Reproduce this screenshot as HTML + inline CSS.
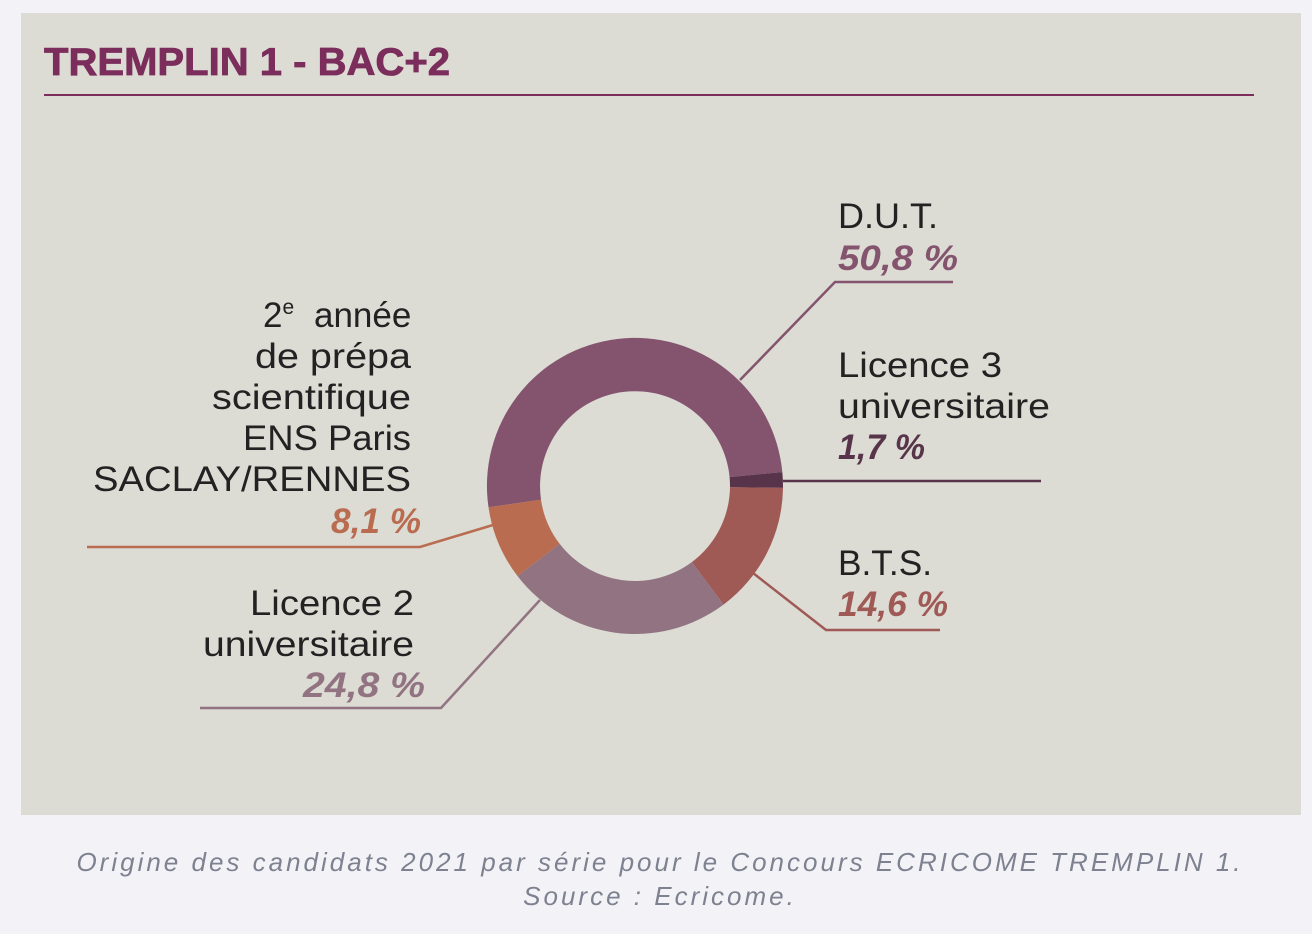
<!DOCTYPE html>
<html><head><meta charset="utf-8"><style>
body{margin:0;width:1312px;height:934px;background:#f3f3f7;overflow:hidden;font-family:"Liberation Sans",sans-serif}
</style></head><body>
<svg width="1312" height="934" xmlns="http://www.w3.org/2000/svg" style="position:absolute;left:0;top:0">
<rect x="21" y="13" width="1280" height="802" fill="#dcdbd4"/>
<text x="44" y="75" font-family="Liberation Sans" font-weight="bold" font-size="39" fill="#7b2d5b" stroke="#7b2d5b" stroke-width="0.8" textLength="406" lengthAdjust="spacingAndGlyphs">TREMPLIN 1 - BAC+2</text>
<line x1="44" y1="95" x2="1254" y2="95" stroke="#7b2d5b" stroke-width="2"/>
<path d="M488.5,507.3 A148,148 0 1 1 782.3,472.1 L729.6,477.1 A95,95 0 1 0 541.0,499.7 Z" fill="#84546f"/>
<path d="M782.3,472.1 A148,148 0 0 1 783.0,487.9 L730.0,487.2 A95,95 0 0 0 729.6,477.1 Z" fill="#57344a"/>
<path d="M783.0,487.9 A148,148 0 0 1 723.5,604.6 L691.8,562.1 A95,95 0 0 0 730.0,487.2 Z" fill="#a05a55"/>
<path d="M723.5,604.6 A148,148 0 0 1 517.5,576.0 L559.6,543.8 A95,95 0 0 0 691.8,562.1 Z" fill="#917381"/>
<path d="M517.5,576.0 A148,148 0 0 1 488.5,507.3 L541.0,499.7 A95,95 0 0 0 559.6,543.8 Z" fill="#b96c4f"/>
<polyline points="740,380 835,282 953,282" fill="none" stroke="#84546f" stroke-width="2.5"/>
<polyline points="783,481 1041,481" fill="none" stroke="#57344a" stroke-width="2.5"/>
<polyline points="753,573 826,630 940,630" fill="none" stroke="#a05a55" stroke-width="2.5"/>
<polyline points="540,600 441,708 200,708" fill="none" stroke="#917381" stroke-width="2.5"/>
<polyline points="493,525 420,547 87,547" fill="none" stroke="#b96c4f" stroke-width="2.5"/>
<g font-family="Liberation Sans" font-size="35" fill="#222">
<text x="838" y="228" textLength="100" lengthAdjust="spacingAndGlyphs">D.U.T.</text>
<text x="838" y="270" textLength="120" lengthAdjust="spacingAndGlyphs" font-weight="bold" font-style="italic" fill="#84546f">50,8 %</text>
<text x="838" y="377" textLength="164" lengthAdjust="spacingAndGlyphs">Licence 3</text>
<text x="838" y="418" textLength="212" lengthAdjust="spacingAndGlyphs">universitaire</text>
<text x="838" y="459" textLength="87" lengthAdjust="spacingAndGlyphs" font-weight="bold" font-style="italic" fill="#57344a">1,7 %</text>
<text x="838" y="575" textLength="94" lengthAdjust="spacingAndGlyphs">B.T.S.</text>
<text x="838" y="616" textLength="110" lengthAdjust="spacingAndGlyphs" font-weight="bold" font-style="italic" fill="#a05a55">14,6 %</text>
<text x="263" y="327">2<tspan font-size="21" dy="-13">e</tspan><tspan dy="13" x="314">année</tspan></text>
<text x="255" y="368" textLength="156" lengthAdjust="spacingAndGlyphs">de prépa</text>
<text x="212" y="409" textLength="199" lengthAdjust="spacingAndGlyphs">scientifique</text>
<text x="243" y="450" textLength="168" lengthAdjust="spacingAndGlyphs">ENS Paris</text>
<text x="93" y="491" textLength="318" lengthAdjust="spacingAndGlyphs">SACLAY/RENNES</text>
<text x="331" y="533" textLength="90" lengthAdjust="spacingAndGlyphs" font-weight="bold" font-style="italic" fill="#b96c4f">8,1 %</text>
<text x="250" y="615" textLength="164" lengthAdjust="spacingAndGlyphs">Licence 2</text>
<text x="203" y="656" textLength="211" lengthAdjust="spacingAndGlyphs">universitaire</text>
<text x="303" y="697" textLength="122" lengthAdjust="spacingAndGlyphs" font-weight="bold" font-style="italic" fill="#917381">24,8 %</text>
</g>
<g font-family="Liberation Sans" font-style="italic" font-size="26" fill="#7d8190" text-anchor="middle" letter-spacing="3">
<text x="660" y="871">Origine des candidats 2021 par série pour le Concours ECRICOME TREMPLIN 1.</text>
<text x="660" y="905">Source  : Ecricome.</text>
</g>
</svg>
</body></html>
